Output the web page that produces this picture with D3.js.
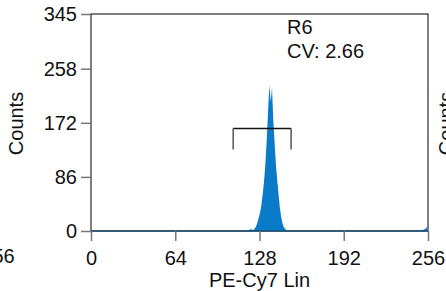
<!DOCTYPE html>
<html>
<head>
<meta charset="utf-8">
<script src="https://cdn.jsdelivr.net/npm/d3@7"></script>
<style>
  body { margin: 0; background: #fff; }
  svg { display: block; font-family: "Liberation Sans", Arial, sans-serif; }
</style>
</head>
<body>
<svg width="446" height="291"></svg>
<script>
// histogram counts per channel (0..255)
var peakStart = 118;
var peakCounts = [0, 1, 2, 3, 1, 2, 4, 8, 14, 22, 30, 42, 60, 80, 108, 145, 190, 232, 205, 228,
                  175, 140, 105, 80, 58, 36, 22, 12, 6, 3, 1, 0];
var tailStart = 245;
var tailCounts = [0, 1, 1, 0, 1, 2, 1, 2, 3, 4, 8];

var xTicks = [0, 64, 128, 192, 256];
var yTicks = [0, 86, 172, 258, 345];

var regionName = "R6";
var regionCV = "2.66";
var regionRange = [108, 152];
var regionLevel = 163;

// build full channel array
var counts = [];
for (var i = 0; i < 256; i++) counts.push(0);
peakCounts.forEach(function(c, j) { counts[peakStart + j] = c; });
tailCounts.forEach(function(c, j) { counts[tailStart + j] = c; });
var data = counts.map(function(c, i) { return { ch: i, n: c }; });

var svg = d3.select("svg"),
    plotL = 91, plotR = 428, plotT = 14, plotB = 231;

var x = d3.scaleLinear().domain([0, 256]).range([plotL, plotR]),
    y = d3.scaleLinear().domain([0, 345]).range([plotB, plotT]);

// frame
svg.append("rect")
   .attr("x", plotL).attr("y", plotT)
   .attr("width", plotR - plotL).attr("height", plotB - plotT)
   .attr("fill", "none").attr("stroke", "#000").attr("stroke-width", 1);

// histogram
var area = d3.area()
    .x(function(d) { return x(d.ch + 0.5); })
    .y0(y(0))
    .y1(function(d) { return y(d.n); });

svg.append("path")
   .datum(data)
   .attr("fill", "#0a7bc9")
   .attr("d", area);

svg.append("line")
   .attr("x1", plotL).attr("x2", plotR)
   .attr("y1", y(0)).attr("y2", y(0))
   .attr("stroke", "#1d4f73").attr("stroke-width", 1.5);

// axes
var xAxis = svg.append("g")
   .attr("transform", "translate(0," + plotB + ")")
   .call(d3.axisBottom(x).tickValues(xTicks).tickSize(10).tickPadding(10));

var yAxis = svg.append("g")
   .attr("transform", "translate(" + plotL + ",0)")
   .call(d3.axisLeft(y).tickValues(yTicks).tickSize(10).tickPadding(4));

[xAxis, yAxis].forEach(function(g) {
  g.select(".domain").remove();
  g.selectAll("line").attr("stroke", "#777").attr("stroke-width", 1.5);
  g.selectAll("text").attr("fill", "#111").style("font-size", "20px")
   .style("font-family", "Liberation Sans, Arial, sans-serif");
});

// axis titles
svg.append("text")
   .attr("x", (plotL + plotR) / 2).attr("y", 287)
   .attr("text-anchor", "middle")
   .style("font-size", "20px").attr("fill", "#111")
   .text("PE-Cy7 Lin");

svg.append("text")
   .attr("transform", "translate(23," + ((plotT + plotB) / 2 + 1) + ") rotate(-90)")
   .attr("text-anchor", "middle")
   .style("font-size", "20px").attr("fill", "#111")
   .text("Counts");

// neighbouring panels peeking in at the edges
svg.append("text")
   .attr("x", -2).attr("y", 263)
   .attr("text-anchor", "middle")
   .style("font-size", "20px").attr("fill", "#111")
   .text("256");

svg.append("text")
   .attr("transform", "translate(453," + ((plotT + plotB) / 2 + 1) + ") rotate(-90)")
   .attr("text-anchor", "middle")
   .style("font-size", "20px").attr("fill", "#111")
   .text("Counts");

// region marker
var gy = y(regionLevel);
svg.append("line")
   .attr("x1", x(regionRange[0])).attr("x2", x(regionRange[1]))
   .attr("y1", gy).attr("y2", gy)
   .attr("stroke", "#111").attr("stroke-width", 1.5);
regionRange.forEach(function(v) {
  svg.append("line")
     .attr("x1", x(v)).attr("x2", x(v))
     .attr("y1", gy).attr("y2", gy + 21)
     .attr("stroke", "#555").attr("stroke-width", 1.5);
});

svg.append("text")
   .attr("x", 287).attr("y", 34)
   .style("font-size", "20px").attr("fill", "#111")
   .text(regionName);
svg.append("text")
   .attr("x", 287).attr("y", 58)
   .style("font-size", "20px").attr("fill", "#111")
   .text("CV: " + regionCV);
</script>
</body>
</html>
